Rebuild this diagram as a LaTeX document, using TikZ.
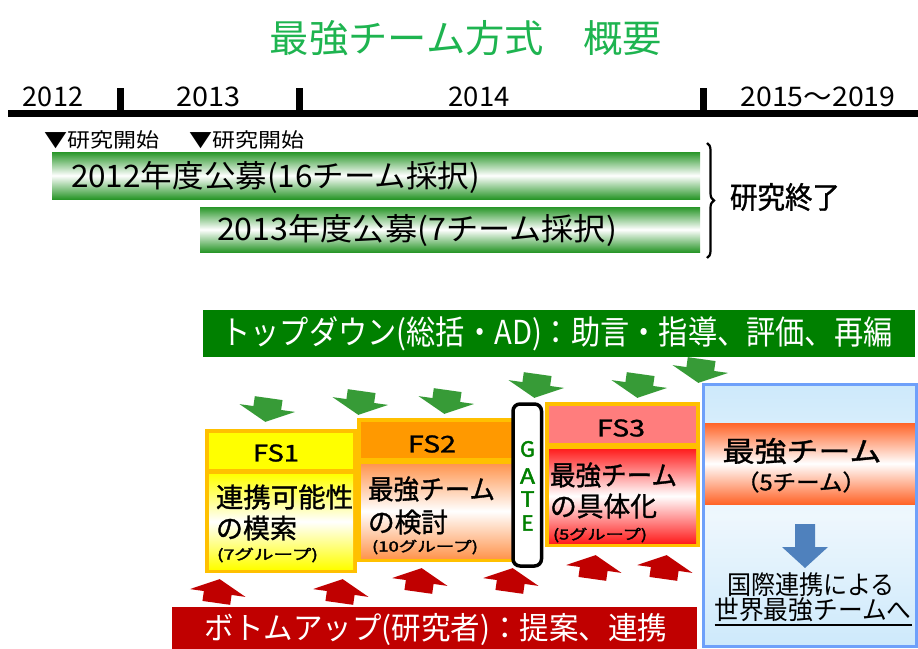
\documentclass[tikz,border=0pt]{standalone}
\usepackage{fontspec}
\setmainfont{Noto Sans CJK JP}
\newfontfamily\jpb[FakeBold=1.2]{Noto Sans CJK JP}
\newfontfamily\jpbb[FakeBold=2]{Noto Sans CJK JP}
\usetikzlibrary{decorations.pathreplacing}
\definecolor{titlegreen}{RGB}{30,180,80}
\definecolor{bargreen}{RGB}{40,150,40}
\definecolor{bannergreen}{RGB}{0,128,0}
\definecolor{bannerred}{RGB}{192,0,0}
\definecolor{arrowgreen}{RGB}{55,155,55}
\definecolor{arrowred}{RGB}{192,0,0}
\definecolor{fsborder}{RGB}{255,192,0}
\definecolor{fsonehead}{RGB}{255,255,0}
\definecolor{fsonebody}{RGB}{255,255,0}
\definecolor{fstwohead}{RGB}{255,153,0}
\definecolor{fstwobody}{RGB}{255,150,80}
\definecolor{fsthreehead}{RGB}{255,125,125}
\definecolor{fsthreebody}{RGB}{255,30,30}
\definecolor{bandorange}{RGB}{255,100,40}
\definecolor{lblue}{RGB}{205,233,251}
\definecolor{lbluemid}{RGB}{238,247,253}
\definecolor{rbord}{RGB}{110,160,250}
\definecolor{bluearrow}{RGB}{79,129,189}
\definecolor{gategreen}{RGB}{0,128,0}
\newcommand\fw[2]{\resizebox{#1pt}{\height}{#2}}
\newcommand\fs[1]{\fontsize{#1}{#1}\selectfont}
\newcommand\greenarrow[3]{\fill[arrowgreen, shift={(#1,#2)}, rotate=#3] (-14,-12) -- (14,-12) -- (14,-2) -- (28,-2) -- (0,12) -- (-28,-2) -- (-14,-2) -- cycle;}
\newcommand\redarrow[3]{\fill[arrowred, shift={(#1,#2)}, rotate=#3] (-14,12) -- (14,12) -- (14,2) -- (28,2) -- (0,-12) -- (-28,2) -- (-14,2) -- cycle;}
\tikzset{
  lbl/.style={inner sep=0pt, outer sep=0pt},
  gradbar/.style={top color=#1, bottom color=#1, middle color=white},
}
\begin{document}
\begin{tikzpicture}[x=1pt, y=-1pt, every node/.style={lbl}]
\useasboundingbox (0,0) rectangle (918,648);
\fill[white] (0,0) rectangle (918,648);

% title
\node[text=titlegreen] (title) at (466,38) {\fs{38}\fw{392}{最強チーム方式　概要}};

% timeline
\draw[line width=7pt] (8,113.5) -- (918,113.5);
\fill (117,88) rectangle (124,112);
\fill (296,88) rectangle (303,112);
\fill (700,88) rectangle (707,112);
\node (y2012) at (53,97) {\fs{27}\fw{60}{2012}};
\node (y2013) at (208,97) {\fs{27}\fw{64}{2013}};
\node (y2014) at (479,97) {\fs{27}\fw{61}{2014}};
\node (y2015) at (818,97) {\fs{27}\fw{155}{2015～2019}};
\node (start1) at (102,140) {\fs{20}\fw{115}{▼研究開始}};
\node (start2) at (247,140) {\fs{20}\fw{115}{▼研究開始}};

% bars
\shade[gradbar=bargreen] (52,152) rectangle (700,199);
\shade[gradbar=bargreen] (200,207) rectangle (700,252);
\node[anchor=west] (bar1t) at (71,177) {\fs{31}\fw{409}{2012年度公募(16チーム採択)}};
\node[anchor=west] (bar2t) at (217,230) {\fs{31}\fw{400}{2013年度公募(7チーム採択)}};
\draw[line width=2.2pt, decorate, decoration={brace, amplitude=7pt}] (707,143) -- (707,258);
\node (endt) at (785,197) {\jpb\fs{30}\fw{110}{研究終了}};

% top-down banner
\node[fill=bannergreen, minimum width=712pt, minimum height=47pt] (topban) at (559,333.5) {};
\node[text=white] (topt) at (557,333.5) {\fs{33}\fw{671}{トップダウン(総括・AD)：助言・指導、評価、再編}};

% right box
\path[top color=lblue, bottom color=lblue, middle color=lbluemid] (703.5,384.5) rectangle (916.5,646.5);
\shade[gradbar=bandorange] (705,423) rectangle (915,504);
\draw[rbord, line width=3pt] (703.5,384.5) rectangle (916.5,646.5);
\node (rb1) at (802,451) {\jpb\fs{28}\fw{159}{最強チーム}};
\node (rb2) at (801,482) {\jpb\fs{22}\fw{130}{（5チーム）}};
\fill[bluearrow] (795,524) -- (815,524) -- (815,547) -- (828,547) -- (805,568) -- (782,547) -- (795,547) -- cycle;
\node (rb3) at (811,585) {\fs{26}\fw{168}{国際連携による}};
\node (rb4) at (813,610) {\fs{26}\fw{197}{世界最強チームへ}};
\draw[line width=1.5pt] ([yshift=-3pt]rb4.south west) -- ([yshift=-3pt]rb4.south east);

% FS1
\fill[fsborder] (205,429) rectangle (357,573);
\fill[fsonehead] (209,433) rectangle (353,469);
\shade[gradbar=fsonebody] (209,474) rectangle (353,569);
\node (fs1) at (276,453) {\jpb\fs{23}\fw{46}{FS1}};
\node[anchor=west] (fs1a) at (216,497) {\jpb\fs{27}\fw{137}{連携可能性}};
\node[anchor=west] (fs1b) at (216,528) {\jpb\fs{27}\fw{81}{の模索}};
\node[anchor=west] (fs1c) at (217,555) {\jpbb\fs{14}\fw{101}{(7グループ)}};

% FS2
\fill[fsborder] (357,418) rectangle (516,562);
\fill[fstwohead] (361,422) rectangle (512,458);
\shade[gradbar=fstwobody] (361,464) rectangle (512,558);
\node (fs2) at (432,444) {\jpb\fs{23}\fw{48}{FS2}};
\node[anchor=west] (fs2a) at (368,489) {\jpb\fs{27}\fw{127}{最強チーム}};
\node[anchor=west] (fs2b) at (368,522) {\jpb\fs{27}\fw{80}{の検討}};
\node[anchor=west] (fs2c) at (372,547) {\jpbb\fs{14}\fw{106}{(10グループ)}};

% FS3
\fill[fsborder] (545,402) rectangle (700,547);
\fill[fsthreehead] (549,406) rectangle (696,443);
\shade[gradbar=fsthreebody] (549,449) rectangle (696,543);
\node (fs3) at (621,428) {\jpb\fs{23}\fw{48}{FS3}};
\node[anchor=west] (fs3a) at (550,475) {\jpb\fs{27}\fw{127}{最強チーム}};
\node[anchor=west] (fs3b) at (550,506) {\jpb\fs{27}\fw{107}{の具体化}};
\node[anchor=west] (fs3c) at (553,535) {\jpbb\fs{14}\fw{94}{(5グループ)}};

% GATE
\draw[line width=3.5pt, fill=white, rounded corners=7pt] (513,404) rectangle (541.5,566);
\node[text=gategreen] (gG) at (527.5,449) {\jpbb\fs{21}\fw{15}{G}};
\node[text=gategreen] (gA) at (527.5,476) {\jpbb\fs{21}\fw{15}{A}};
\node[text=gategreen] (gT) at (527.5,499) {\jpbb\fs{21}\fw{14}{T}};
\node[text=gategreen] (gE) at (527.5,523) {\jpbb\fs{21}\fw{12}{E}};

% green arrows
\greenarrow{267}{410}{-8}
\greenarrow{360}{403}{-8}
\greenarrow{446}{402}{-8}
\greenarrow{536}{386}{-8}
\greenarrow{639}{386}{-8}
\greenarrow{700}{371}{-8}

% red arrows
\redarrow{218}{591}{-8}
\redarrow{341}{591}{-8}
\redarrow{420}{580}{-8}
\redarrow{511}{580}{-8}
\redarrow{594}{567}{-8}
\redarrow{665}{567}{-8}

% bottom-up banner
\fill[bannerred] (172,607) rectangle (697,652);
\node[text=white] (bott) at (436,629) {\fs{31}\fw{462}{ボトムアップ(研究者)：提案、連携}};
\end{tikzpicture}
\end{document}
